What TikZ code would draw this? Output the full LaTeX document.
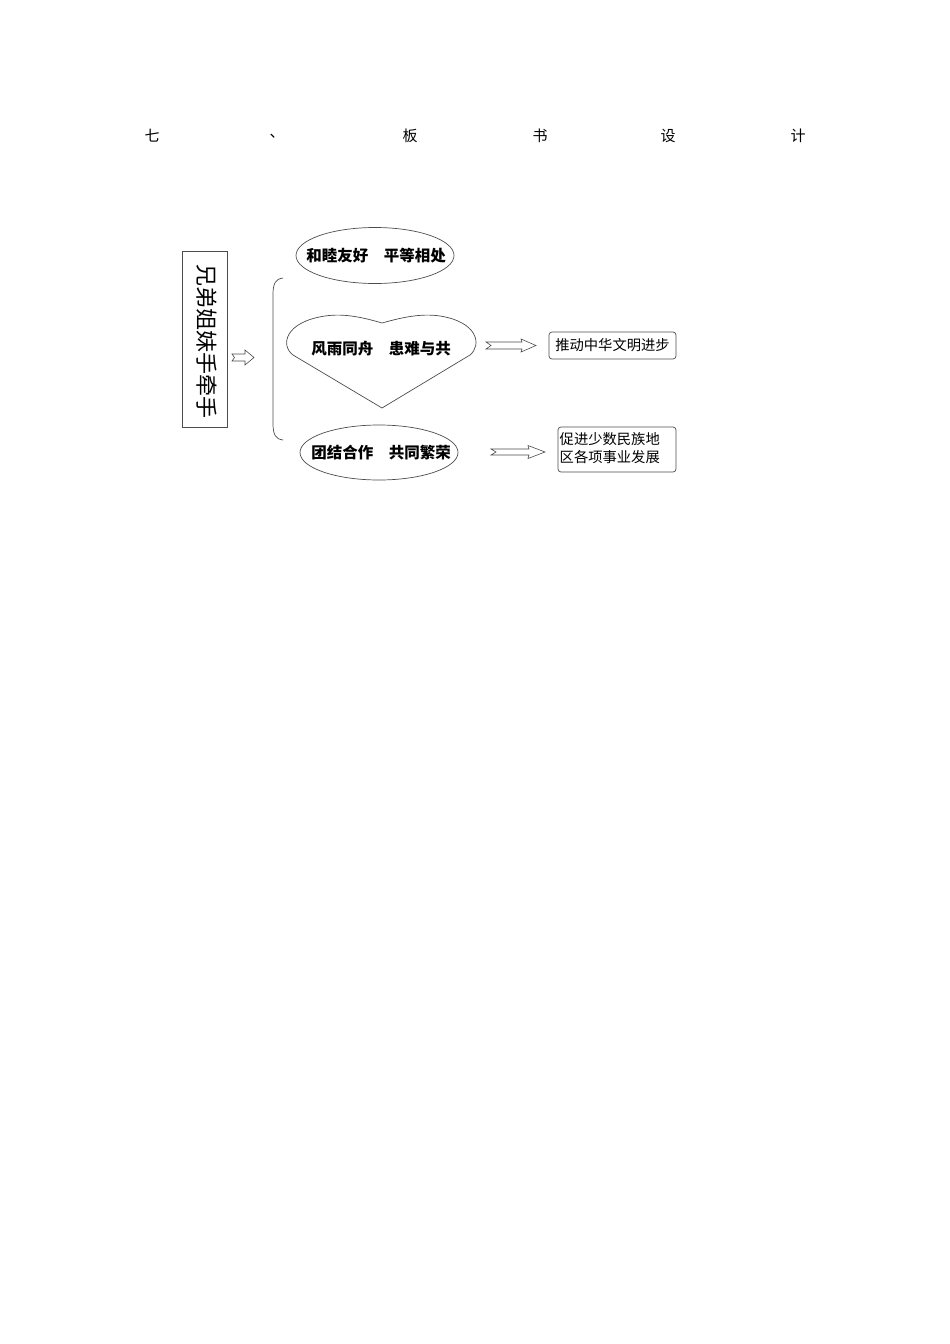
\documentclass[tikz,border=0pt]{standalone}
\usepackage{fontspec}
\setmainfont{Noto Sans CJK SC}
\usetikzlibrary{shapes.geometric}
\begin{document}
\begin{tikzpicture}[x=1pt,y=-1pt,
  line/.style={draw=black!70,line width=0.7pt},
  otext/.style={inner sep=0pt,font=\bfseries\fontsize{15.5}{17}\selectfont},
  rbox/.style={line,rounded corners=3pt,inner sep=0pt,font=\fontsize{14.3}{16}\selectfont},
  blockarrow/.style={line,fill=white,line width=0.6pt},
  ttl/.style={font=\fontsize{15}{17}\selectfont,inner sep=0pt}]
\useasboundingbox (0,0) rectangle (950,1344);
% title
\node[ttl] (t1) at (152,136) {七};
\node[ttl] (t2) at (277,136) {、};
\node[ttl] (t3) at (410,136) {板};
\node[ttl] (t4) at (540,136) {书};
\node[ttl] (t5) at (668,136) {设};
\node[ttl] (t6) at (798,136) {计};
% left box
\node[line,minimum width=45pt,minimum height=176pt,inner sep=0pt] (lbox) at (204.5,339) {};
\node[rotate=-90,inner sep=0pt,font=\fontsize{22}{24}\selectfont] (ltext) at (207,341.5) {兄弟姐妹手牵手};
% small arrow
\draw[blockarrow] (232,354) -- (245,354) -- (245,350) -- (254,357.5) -- (245,365) -- (245,361) -- (232,361) -- (234.5,357.5) -- cycle;
% bracket
\draw[line] (283,278) .. controls (275,279) and (273,284) .. (273,295) -- (273,423) .. controls (273,434) and (275,439) .. (283,440);
% ellipses
\draw[line] (375,255.5) ellipse [x radius=79, y radius=28];
\node[otext] (e1) at (376,255.5) {和睦友好\hspace{1em}平等相处};
\draw[line] (379,452.5) ellipse [x radius=79, y radius=27.5];
\node[otext] (e3) at (381,453) {团结合作\hspace{1em}共同繁荣};
% heart
\draw[line] (382,408) -- (293,355)
  .. controls (280,345) and (285,322) .. (325,316)
  .. controls (345,313) and (365,318) .. (382,323)
  .. controls (400,318) and (420,313) .. (440,316)
  .. controls (478,322) and (482,345) .. (470,355) -- cycle;
\node[otext] (e2) at (381,349) {风雨同舟\hspace{1em}患难与共};
% right arrows
\draw[blockarrow] (486,342) -- (522,342) -- (521,339) -- (536,345.5) -- (521,352) -- (522,349) -- (486,349) -- (491,345.5) -- cycle;
\draw[blockarrow] (491,449) -- (529,449) -- (528,445.5) -- (545,452) -- (528,458.5) -- (529,455) -- (491,455) -- (496,452) -- cycle;
% right boxes
\node[rbox,minimum width=127pt,minimum height=27pt] (b1) at (612.5,345.5) {推动中华文明进步};
\node[rbox,minimum width=118pt,minimum height=45pt] (b2) at (617,449.5) {};
\node[inner sep=0pt,align=left,anchor=west,font=\fontsize{14.3}{18}\selectfont] (b2t) at (559.5,448) {促进少数民族地\\区各项事业发展};
\end{tikzpicture}
\end{document}
